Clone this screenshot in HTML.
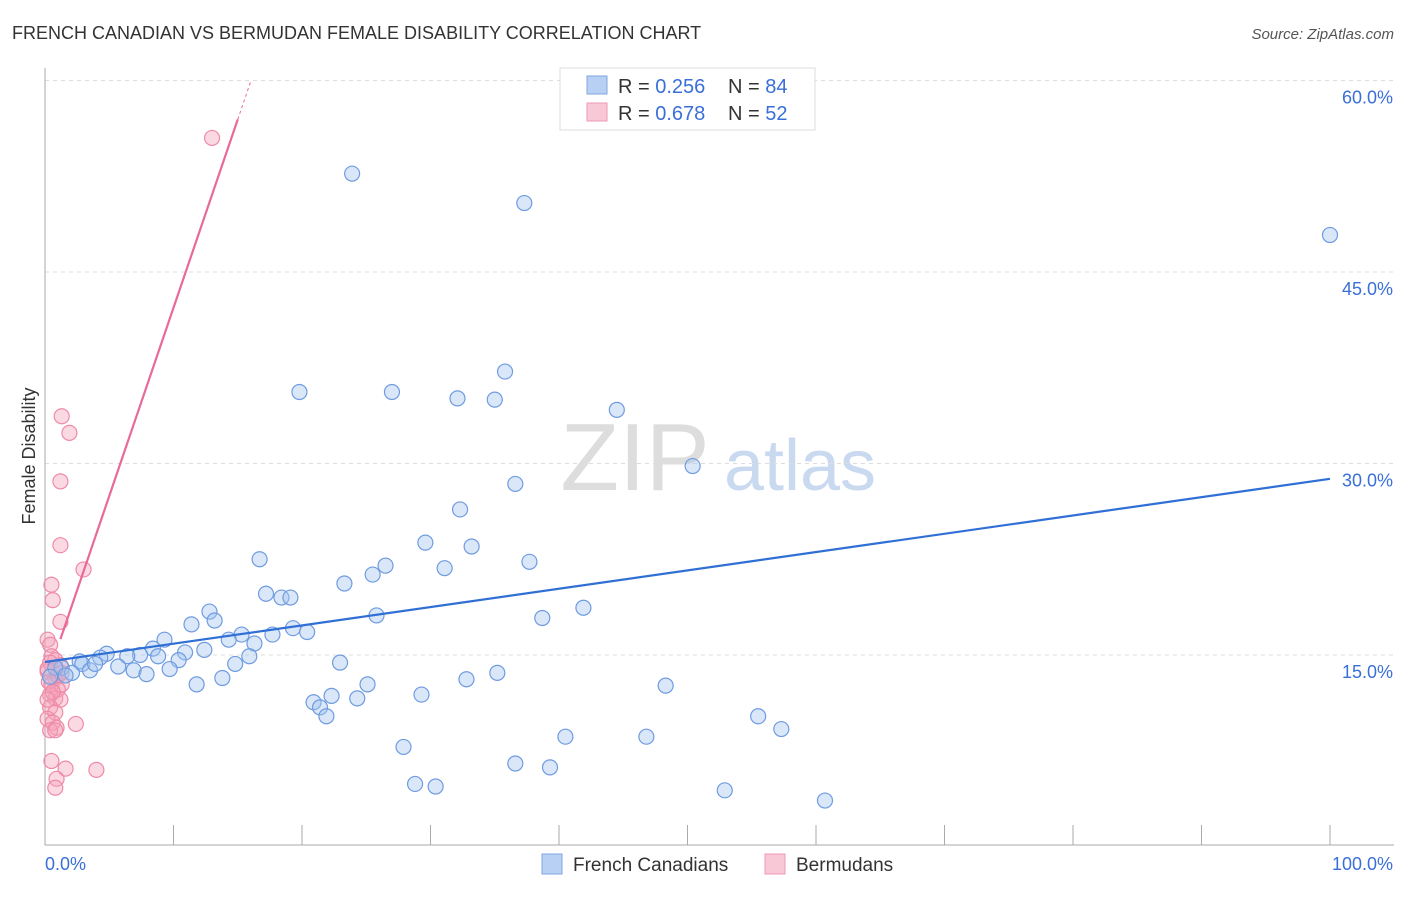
<!DOCTYPE html>
<html><head><meta charset="utf-8">
<style>
body{margin:0;background:#fff;font-family:"Liberation Sans",sans-serif;}
svg text{font-family:"Liberation Sans",sans-serif;}
</style></head>
<body>
<svg id="chart" width="1406" height="892">
<text x="12" y="39" font-size="18" fill="#333">FRENCH CANADIAN VS BERMUDAN FEMALE DISABILITY CORRELATION CHART</text>
<text x="1394" y="39" font-size="15" fill="#555" font-style="italic" text-anchor="end">Source: ZipAtlas.com</text>
<text x="35" y="456" font-size="18" fill="#333" text-anchor="middle" transform="rotate(-90 35 456)">Female Disability</text>
<g><text x="635" y="490" font-size="96" fill="#ddd" font-family="Liberation Serif" text-anchor="middle">ZIP</text><text x="800" y="490" font-size="72" fill="#c9d9ef" text-anchor="middle">atlas</text></g>
<g id="grid"></g><g id="axes"></g><g id="marks"></g>
<g>
<rect x="560" y="68" width="255" height="62" fill="#fff" stroke="#ddd"/>
<rect x="587" y="76" width="20" height="18" fill="#b8d0f4" stroke="#7fa6e0"/>
<text x="618" y="93" font-size="20" fill="#333">R = <tspan fill="#3a6fd8">0.256</tspan></text>
<text x="728" y="93" font-size="20" fill="#333">N = <tspan fill="#3a6fd8">84</tspan></text>
<rect x="587" y="103" width="20" height="18" fill="#f8c8d6" stroke="#ec9ab2"/>
<text x="618" y="120" font-size="20" fill="#333">R = <tspan fill="#3a6fd8">0.678</tspan></text>
<text x="728" y="120" font-size="20" fill="#333">N = <tspan fill="#3a6fd8">52</tspan></text>
</g>
<g>
<rect x="542" y="854" width="20" height="20" fill="#b8d0f4" stroke="#7fa6e0"/>
<text x="573" y="871" font-size="19" fill="#333">French Canadians</text>
<rect x="765" y="854" width="20" height="20" fill="#f8c8d6" stroke="#ec9ab2"/>
<text x="796" y="871" font-size="19" fill="#333">Bermudans</text>
</g>
</svg>
<script>
const yTicks=[15,30,45,60];
const yTickLabels=["15.0%","30.0%","45.0%","60.0%"];
const xTickLabels=["0.0%","100.0%"];
const blueX=[23.9,37.3,100,19.8,27.0,35.8,32.1,35.0,44.5,50.4,36.6,32.3,29.6,33.2,37.7,16.7,26.5,31.1,25.5,23.3,17.2,18.4,19.1,41.9,38.7,25.8,12.8,13.2,11.4,19.3,20.4,17.7,15.3,9.3,14.3,16.3,8.4,10.9,12.4,7.4,8.8,4.8,6.4,4.3,2.7,2.9,1.3,2.1,3.5,5.7,6.9,7.9,10.4,9.7,15.9,14.8,22.96,35.2,32.8,48.3,11.8,13.8,25.1,22.3,29.3,24.3,20.9,21.4,21.9,55.5,57.3,40.5,46.8,27.9,36.6,39.3,28.8,30.4,52.9,60.7,0.8,0.4,1.6,3.9];
const blueY=[52.7,50.4,47.9,35.6,35.6,37.2,35.1,35.0,34.2,29.8,28.4,26.4,23.8,23.5,22.3,22.5,22.0,21.8,21.3,20.6,19.8,19.5,19.5,18.7,17.9,18.1,18.4,17.7,17.4,17.1,16.8,16.6,16.6,16.2,16.2,15.9,15.5,15.2,15.4,15.0,14.9,15.1,14.9,14.8,14.5,14.3,14.0,13.6,13.8,14.1,13.8,13.5,14.6,13.9,14.9,14.3,14.4,13.6,13.1,12.6,12.7,13.2,12.7,11.8,11.9,11.6,11.3,10.9,10.2,10.2,9.2,8.6,8.6,7.8,6.5,6.2,4.9,4.7,4.4,3.6,14.0,13.3,13.4,14.3];
const pinkX=[13.0,1.3,1.9,1.2,1.2,3.0,0.5,0.6,1.2,0.2,0.4,0.5,0.8,1.2,0.2,0.8,0.5,1.3,1.0,0.4,0.8,1.2,0.4,0.8,0.2,0.6,0.9,2.4,0.4,0.8,0.5,1.6,4.0,0.9,0.8,0.4,0.2,0.3,0.6,0.2,1.0,1.3];
const pinkY=[55.5,33.7,32.4,28.6,23.6,21.7,20.5,19.3,17.6,16.2,15.8,14.9,14.6,14.2,13.7,13.2,12.7,12.7,12.3,11.9,11.6,11.5,10.9,10.5,10.0,9.7,9.3,9.6,9.1,9.1,6.7,6.1,6.0,5.3,4.6,14.4,13.9,12.9,12.1,11.5,13.4,13.6];
const blueLine=[14.45,28.8];
const pinkLine=[12.7,2.95];
const X=v=>45+v*12.85, Y=v=>846.5-v*12.767;
const NS="http://www.w3.org/2000/svg";
function mk(tag,attrs,parent){const e=document.createElementNS(NS,tag);for(const k in attrs)e.setAttribute(k,attrs[k]);document.getElementById(parent).appendChild(e);return e;}
yTicks.forEach((t,i)=>{
 const g=mk('line',{x1:45,x2:1394,y1:Y(t),y2:Y(t),stroke:'#ddd','stroke-dasharray':'4,4'},'grid');
 
 
 const l=mk('text',{x:1393,y:Y(t)+23,'font-size':18,fill:'#3a6fd8','text-anchor':'end'},'axes');
 l.textContent=yTickLabels[i];
 
 
});
const ax=mk('line',{x1:45,x2:1394,y1:845,y2:845,stroke:'#aaa'},'axes');


const ay=mk('line',{x1:45,x2:45,y1:68,y2:845,stroke:'#aaa'},'axes');


for(let i=0;i<=10;i++){const t=mk('line',{x1:X(i*10),x2:X(i*10),y1:825,y2:845,stroke:'#aaa'},'axes');
 
 }
[[0,'start',45],[100,'end',1393]].forEach((d,i)=>{const l=mk('text',{x:d[2],y:870,'font-size':18,fill:'#3a6fd8','text-anchor':d[1]},'axes');l.textContent=xTickLabels[i];
 
 });
pinkX.forEach((x,i)=>{const c=mk('circle',{cx:X(x),cy:Y(pinkY[i]),r:7.5,fill:'rgba(244,160,186,0.4)',stroke:'#ee8aa8','stroke-width':1.2},'marks');
 
 });
blueX.forEach((x,i)=>{const c=mk('circle',{cx:X(x),cy:Y(blueY[i]),r:7.5,fill:'rgba(160,195,240,0.4)',stroke:'#6f9be0','stroke-width':1.2},'marks');
 
 });
const bl=mk('line',{x1:X(0),y1:Y(blueLine[0]),x2:X(100),y2:Y(blueLine[1]),stroke:'#2f6fd6','stroke-width':2.2},'marks');


const pf=v=>pinkLine[0]+pinkLine[1]*v;
const pl=mk('line',{x1:X(1.2),y1:Y(pf(1.2)),x2:X(15),y2:Y(pf(15)),stroke:'#e8699a','stroke-width':2.2},'marks');


const pd=mk('line',{x1:X(15),y1:Y(pf(15)),x2:X(16),y2:Y(pf(16)),stroke:'#e8699a','stroke-width':1,'stroke-dasharray':'3,3'},'marks');


</script>
</body></html>
